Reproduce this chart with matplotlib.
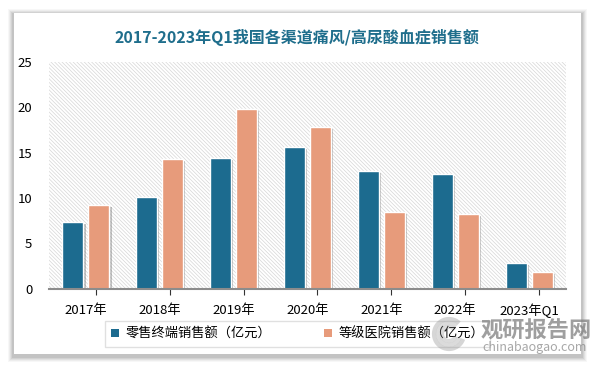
import numpy as np
import matplotlib
matplotlib.use("Agg")
import matplotlib.pyplot as plt
from matplotlib.patches import Rectangle, Arc
import matplotlib.patheffects as pe

plt.rcParams['font.family'] = ['Noto Sans CJK SC', 'DejaVu Sans']
plt.rcParams['hatch.linewidth'] = 0.5

years = ["2017年", "2018年", "2019年", "2020年", "2021年", "2022年", "2023年Q1"]
retail = [7.3, 10.1, 14.4, 15.6, 13.0, 12.6, 2.8]
hospital = [9.2, 14.3, 19.8, 17.8, 8.4, 8.2, 1.8]
series_names = ["零售终端销售额（亿元）", "等级医院销售额（亿元）"]
title = "2017-2023年Q1我国各渠道痛风/高尿酸血症销售额"

BLUE = "#1c6b8f"
ORANGE = "#e79b7b"

fig = plt.figure(figsize=(5.94, 3.67), dpi=100)
fig.patch.set_facecolor("white")

# card with soft shadow
W, H = 594., 367.
cx0, cy0, cx1, cy1 = 14, 13, 581, 354
for i, a in enumerate([0.03, 0.04, 0.05, 0.06, 0.07]):
    d = 6 - i
    fig.patches.append(Rectangle(((cx0 - d) / W, 1 - (cy1 + d + 2) / H),
                                 (cx1 - cx0 + 2 * d) / W, (cy1 - cy0 + 2 * d) / H,
                                 transform=fig.transFigure, facecolor="black",
                                 alpha=a, edgecolor="none", zorder=0))
fig.patches.append(Rectangle((cx0 / W, 1 - cy1 / H), (cx1 - cx0) / W, (cy1 - cy0) / H,
                             transform=fig.transFigure, facecolor="white",
                             edgecolor="none", zorder=1))

ax = fig.add_axes([49 / W, 1 - 288.5 / H, (566 - 49) / W, (288.5 - 62) / H])
ax.set_zorder(2)
ax.patch.set_facecolor("white")
ax.patch.set_hatch("\\" * 9)
ax.patch.set_edgecolor("#d6d6d6")
ax.patch.set_linewidth(0)

x = np.arange(len(years))
bw = 0.285
shadow = [pe.SimplePatchShadow(offset=(1.5, -1.5), shadow_rgbFace="#555555", alpha=0.35),
          pe.Normal()]
b1 = ax.bar(x - 0.176, retail, bw, color=BLUE, edgecolor="white", linewidth=1,
            label=series_names[0], zorder=3)
b2 = ax.bar(x + 0.176, hospital, bw, color=ORANGE, edgecolor="white", linewidth=1,
            label=series_names[1], zorder=3)
for b in list(b1) + list(b2):
    b.set_path_effects(shadow)

ax.set_xlim(-0.5, len(years) - 0.5)
ax.set_ylim(0, 25)
ax.set_yticks([0, 5, 10, 15, 20, 25])
ax.set_xticks(x)
ax.set_xticklabels(years)
ax.set_xticks(x + 0.135, minor=True)
ax.tick_params(axis="x", which="major", length=0, pad=11, labelsize=9.5)
ax.tick_params(axis="x", which="minor", length=4, width=0.8, color="#333333")
ax.tick_params(axis="y", length=0, pad=12, labelsize=9.5)
for s in ["top", "right", "left"]:
    ax.spines[s].set_visible(False)
ax.spines["bottom"].set_color("#8c8c8c")
ax.spines["bottom"].set_linewidth(1.5)
ax.spines["bottom"].set_zorder(4)

fig.text(0.5, 1 - 37 / H, title, ha="center", va="center", fontsize=11.5,
         fontweight="bold", color="#1f6e8c", zorder=5)

leg = fig.legend(handles=[b1, b2], loc="center", bbox_to_anchor=(297.5 / W, 1 - 334 / H),
                 ncol=2, frameon=True, fancybox=False, fontsize=9.5,
                 handlelength=0.6, handleheight=0.6, handletextpad=0.5,
                 columnspacing=4.0, borderpad=0.45)
leg.get_frame().set_edgecolor("#d9d9d9")
leg.get_frame().set_linewidth(1)
leg.set_zorder(5)
for h in leg.legend_handles:
    h.set_path_effects([])
    h.set_edgecolor("none")

# watermark
for r, a in [(30, 0.35), (22, 0.3), (14, 0.3)]:
    fig.patches.append(Arc((449 / W, 1 - 334 / H), r / W, r / H, theta1=60, theta2=330,
                           transform=fig.transFigure, color="#8a8a8a", alpha=a,
                           linewidth=3, zorder=6))
fig.text(536 / W, 1 - 331 / H, "观研报告网", ha="center", va="center", fontsize=16,
         fontweight="bold", color="#7f7f7f", alpha=0.75, zorder=6)
fig.text(535 / W, 1 - 348 / H, "chinabaogao.com", ha="center", va="center", fontsize=9,
         color="#8a8a8a", alpha=0.75, zorder=6)

fig.savefig("out.png", dpi=100)
